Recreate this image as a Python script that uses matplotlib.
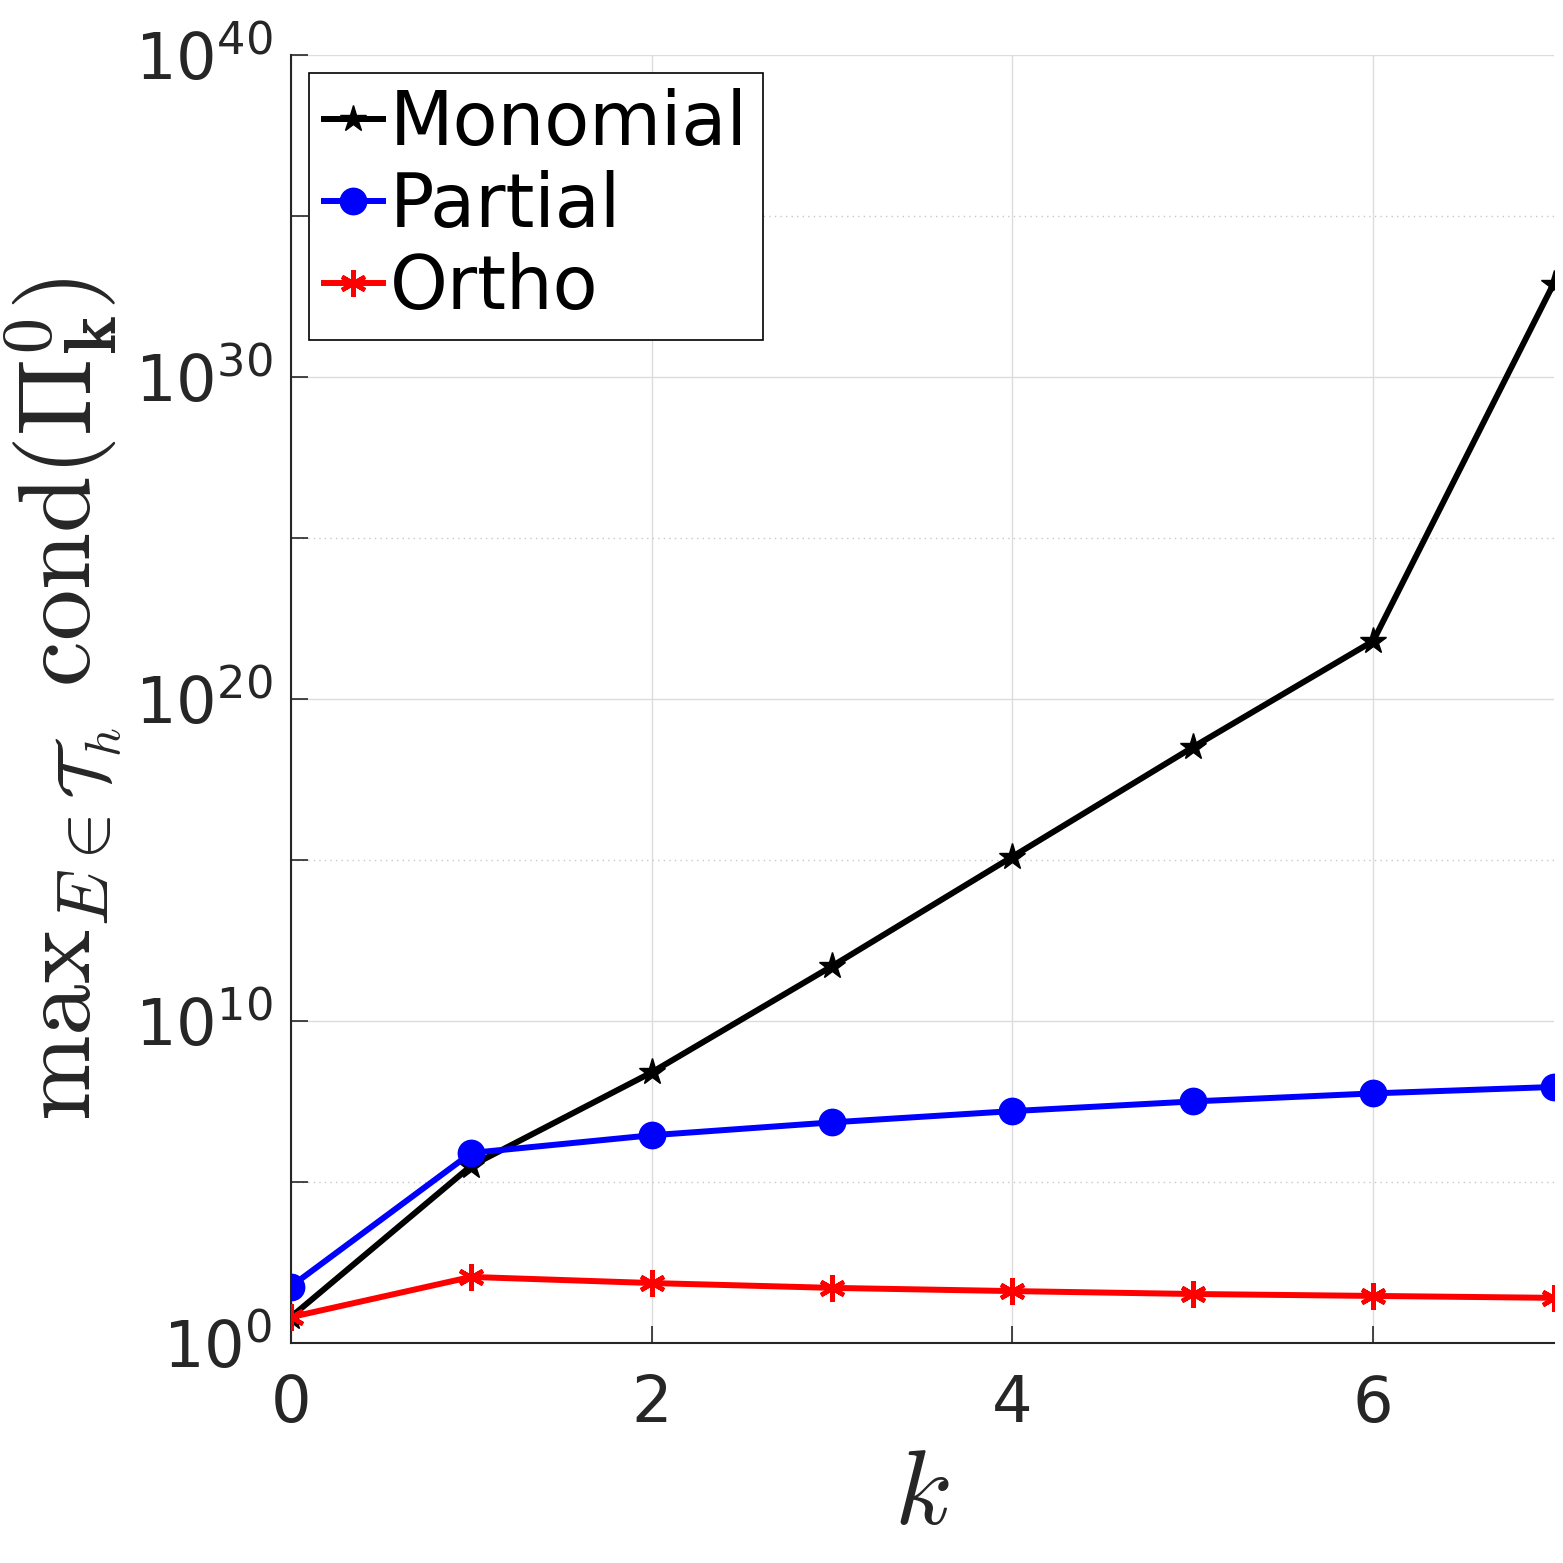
import numpy as np
import matplotlib
matplotlib.use("Agg")
import matplotlib.pyplot as plt
from matplotlib.ticker import FixedLocator, FuncFormatter

# ---------------------------
# DONNEES (exposants log10)
# ---------------------------
k_vals = [0, 1, 2, 3, 4, 5, 6, 7]
log_monomial = [0.8, 5.5, 8.4, 11.7, 15.1, 18.5, 21.8, 32.9]
log_partial = [1.75, 5.9, 6.45, 6.85, 7.2, 7.5, 7.75, 7.95]
log_ortho = [0.8, 2.05, 1.86, 1.71, 1.61, 1.52, 1.46, 1.4]

series_labels = ["Monomial", "Partial", "Ortho"]
y_major = [0, 10, 20, 30, 40]
y_minor = [5, 15, 25, 35]
x_ticks = [0, 2, 4, 6]

monomial = 10.0 ** np.array(log_monomial)
partial = 10.0 ** np.array(log_partial)
ortho = 10.0 ** np.array(log_ortho)

plt.rcParams["font.family"] = ["DejaVu Sans"]
plt.rcParams["mathtext.fontset"] = "dejavusans"

gris = "#262626"

fig = plt.figure(figsize=(15.63, 15.63), dpi=100)
ax = fig.add_axes([0.186, 0.1408, 0.808, 0.824])

asterisque = (6, 2, 0)

ax.plot(k_vals, monomial, color="black", lw=4.3, marker="*", ms=20,
        label=series_labels[0], zorder=3)
ax.plot(k_vals, partial, color="blue", lw=4.3, marker="o", ms=19,
        label=series_labels[1], zorder=3)
ax.plot(k_vals, ortho, color="red", lw=4.3, marker=asterisque, ms=19,
        mew=3.2, label=series_labels[2], zorder=3)

ax.set_yscale("log")
ax.set_xlim(0, 7)
ax.set_ylim(1e0, 1e40)

# ---------------------------
# GRADUATIONS
# ---------------------------
ax.yaxis.set_major_locator(FixedLocator([10.0 ** e for e in y_major]))
ax.yaxis.set_minor_locator(FixedLocator([10.0 ** e for e in y_minor]))
ax.yaxis.set_major_formatter(
    FuncFormatter(lambda v, p: r"$\mathdefault{10^{%d}}$" % round(np.log10(v))))
ax.yaxis.set_minor_formatter(FuncFormatter(lambda v, p: ""))
ax.set_xticks(x_ticks)

ax.tick_params(axis="both", which="both", direction="in", length=12,
               width=1.2, color=gris, labelcolor=gris, labelsize=46)
ax.tick_params(axis="y", which="both", pad=13)
ax.tick_params(axis="x", which="both", pad=22)
ax.tick_params(top=False, right=False)

ax.grid(True, which="major", color="#dcdcdc", lw=1.0, ls="-")
ax.grid(True, which="minor", axis="y", color="#c8c8c8", lw=1.0, ls=(0, (1, 3)))
ax.set_axisbelow(True)

for cote in ["top", "right"]:
    ax.spines[cote].set_visible(False)
for cote in ["left", "bottom"]:
    ax.spines[cote].set_color(gris)
    ax.spines[cote].set_linewidth(1.5)

# ---------------------------
# TITRES DES AXES
# ---------------------------
ax.set_xlabel(r"$k$", fontsize=76, color=gris, math_fontfamily="cm", labelpad=6)
ax.set_ylabel(r"$\mathrm{max}_{E\in\mathcal{T}_h}\ \mathrm{cond}(\mathbf{\Pi}^{\mathbf{0}}_{\mathbf{k}})$",
              fontsize=74, color=gris, math_fontfamily="cm", labelpad=8)

# ---------------------------
# LEGENDE
# ---------------------------
leg = ax.legend(loc="upper left", fontsize=53, frameon=True, fancybox=False,
                edgecolor="black", framealpha=1, handlelength=0.8,
                handletextpad=0.1, labelspacing=0.12, borderpad=0.2,
                borderaxespad=0.25)
leg.get_frame().set_linewidth(1.2)

fig.savefig("out.png", dpi=100)
